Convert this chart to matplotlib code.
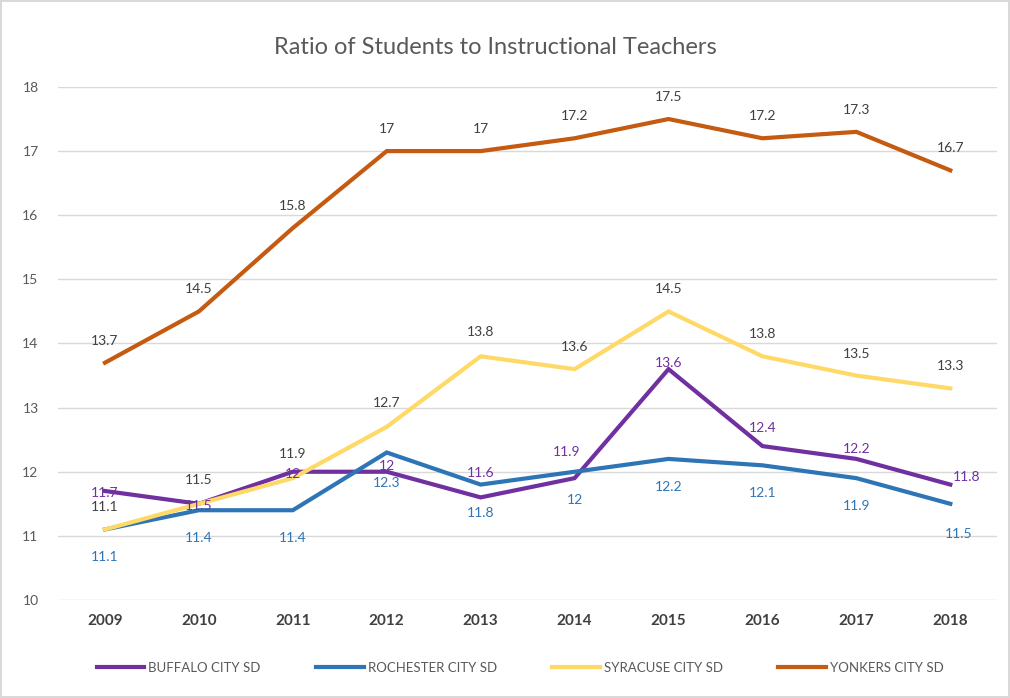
import matplotlib
matplotlib.use("Agg")
import matplotlib.pyplot as plt

years = ["2009", "2010", "2011", "2012", "2013", "2014", "2015", "2016", "2017", "2018"]
buffalo = [11.7, 11.5, 12, 12, 11.6, 11.9, 13.6, 12.4, 12.2, 11.8]
rochester = [11.1, 11.4, 11.4, 12.3, 11.8, 12, 12.2, 12.1, 11.9, 11.5]
syracuse = [11.1, 11.5, 11.9, 12.7, 13.8, 13.6, 14.5, 13.8, 13.5, 13.3]
yonkers = [13.7, 14.5, 15.8, 17, 17, 17.2, 17.5, 17.2, 17.3, 16.7]
names = ["BUFFALO CITY SD", "ROCHESTER CITY SD", "SYRACUSE CITY SD", "YONKERS CITY SD"]

plt.rcParams['font.family'] = ['Lato', 'DejaVu Sans']

fig = plt.figure(figsize=(10.1, 6.98), dpi=100)
fig.patch.set_edgecolor('#d9d9d9')
fig.patch.set_linewidth(1.5)
ax = fig.add_axes([0.0574, 0.1404, 0.93, 0.735])

x = list(range(len(years)))
series = [
    (buffalo, '#7030A0', '#7030A0', [(0, -2), (0, -2), (0, -2), (0, 6), (0, 24), (-8, 26), (0, 6), (0, 18), (0, 10), (16, 8)]),
    (rochester, '#2E75B6', '#2E75B6', [(0, -28), (0, -28), (0, -28), (0, -30), (0, -28), (0, -28), (0, -28), (0, -28), (0, -28), (8, -30)]),
    (syracuse, '#FFD966', '#404040', [(0, 22), (0, 24), (0, 24), (0, 24), (0, 24), (0, 22), (0, 22), (0, 22), (0, 22), (0, 22)]),
    (yonkers, '#C55A11', '#404040', [(0, 22)] * 10),
]
for (vals, col, tcol, offs), name in zip(series, names):
    ax.plot(x, vals, color=col, lw=3, label=name, solid_joinstyle='miter')
    for xi, v, (dx, dy) in zip(x, vals, offs):
        ax.annotate(f"{v:g}", (xi, v), xytext=(dx, dy), textcoords='offset pixels',
                    ha='center', va='center', fontsize=10, color=tcol)

ax.set_xlim(-0.5, 9.5)
ax.set_ylim(10, 18)
ax.set_xticks(x)
ax.set_xticklabels(years, fontweight='bold', fontsize=11, color='#404040')
ax.set_yticks(range(10, 19))
ax.tick_params(axis='y', labelsize=10, labelcolor='#595959', length=0, pad=14)
ax.tick_params(axis='x', length=0, pad=10)
ax.grid(axis='y', color='#d9d9d9', lw=1)
ax.set_axisbelow(True)
for s in ax.spines.values():
    s.set_visible(False)

fig.text(0.49, 0.932, "Ratio of Students to Instructional Teachers", ha='center', va='center',
         fontsize=17, color='#595959')
fig.legend(loc='center', bbox_to_anchor=(0.515, 0.043), ncol=4, frameon=False, fontsize=9.5,
           handlelength=3.6, handletextpad=0.3, columnspacing=4.2, labelcolor='#595959')

fig.savefig("out.png", dpi=100)
